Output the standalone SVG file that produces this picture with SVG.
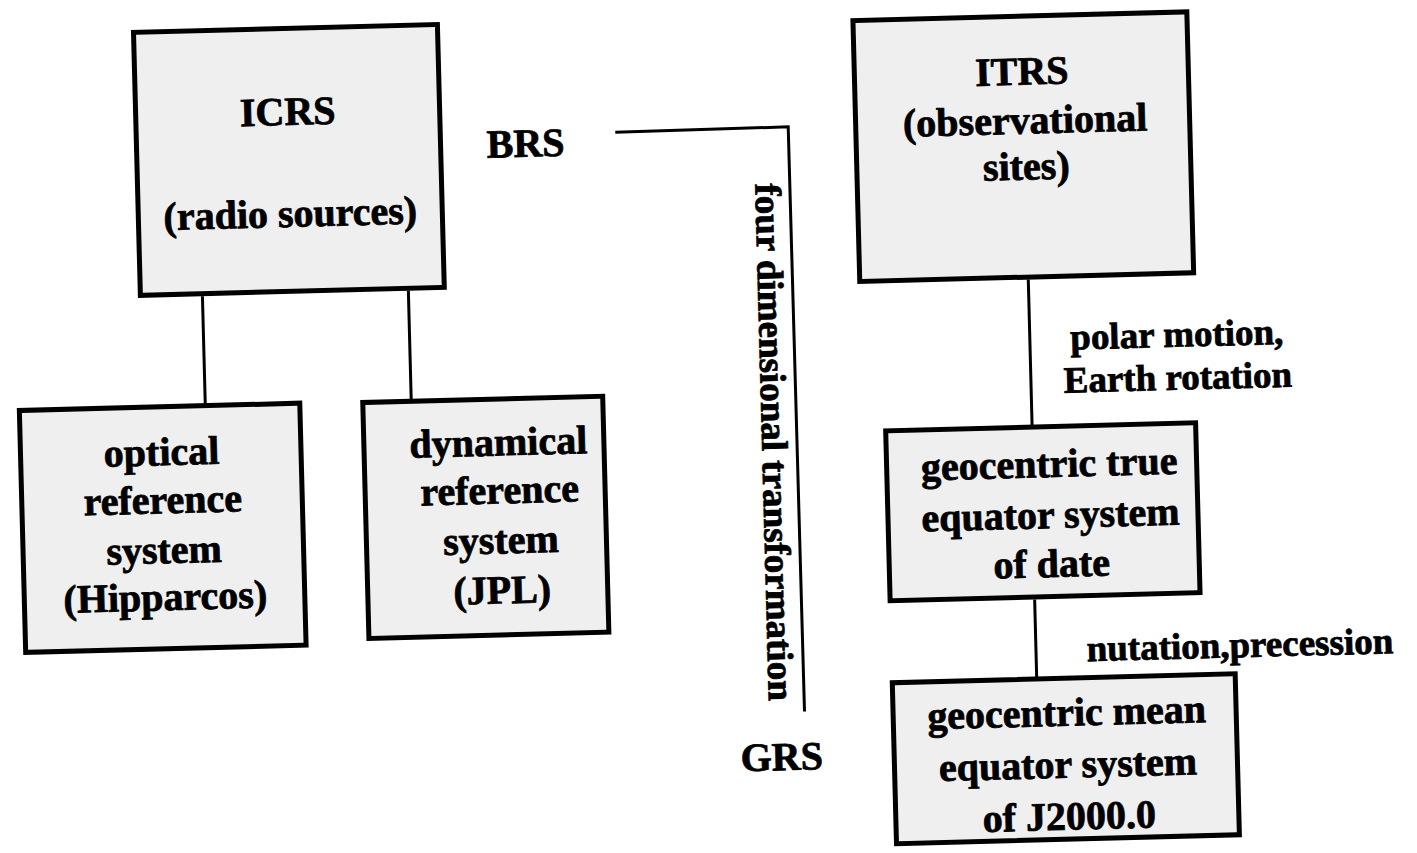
<svg xmlns="http://www.w3.org/2000/svg" width="1417" height="853" viewBox="0 0 1417 853">
<style>
.box{fill:#efefef;stroke:#000;stroke-width:5}
.t{font-family:"Liberation Serif","Times New Roman",serif;font-weight:bold;font-size:40px;fill:#000;stroke:#000;stroke-width:0.8;text-anchor:middle}
.l{font-size:37px}
.c{stroke:#000;stroke-width:3;fill:none}
</style>
<rect width="1417" height="853" fill="#fff"/>
<g transform="rotate(-1.5 708 426)">
<g id="connectors">
<line class="c" x1="206" y1="283" x2="206" y2="391"/>
<line class="c" x1="412" y1="283" x2="412" y2="392"/>
<line class="c" x1="1032" y1="288" x2="1032" y2="434"/>
<line class="c" x1="1030" y1="608" x2="1030" y2="686"/>
<polyline class="c" points="623,130 796,129 797,714"/>
</g>
<g id="icrs">
<rect class="box" x="144" y="17.5" width="304" height="263"/>
<text class="t" x="296" y="114">ICRS</text>
<text class="t" x="296" y="216">(radio sources)</text>
</g>
<g id="optical">
<rect class="box" x="20" y="392.5" width="280.5" height="242"/>
<text class="t" x="161" y="451">optical</text>
<text class="t" x="161" y="499">reference</text>
<text class="t" x="161" y="549">system</text>
<text class="t" x="161" y="596">(Hipparcos)</text>
</g>
<g id="dynamical">
<rect class="box" x="363.5" y="393.5" width="240" height="236"/>
<text class="t" x="498" y="450">dynamical</text>
<text class="t" x="498" y="498">reference</text>
<text class="t" x="498" y="548">system</text>
<text class="t" x="498" y="598">(JPL)</text>
</g>
<g id="itrs">
<rect class="box" x="863.5" y="24.5" width="334" height="261"/>
<text class="t" x="1031" y="93">ITRS</text>
<text class="t" x="1033" y="142">(observational</text>
<text class="t" x="1033" y="188">sites)</text>
</g>
<g id="true">
<rect class="box" x="885.5" y="435.5" width="310" height="170"/>
<text class="t" x="1048" y="486">geocentric true</text>
<text class="t" x="1048" y="537">equator system</text>
<text class="t" x="1048" y="586">of date</text>
</g>
<g id="mean">
<rect class="box" x="885.5" y="687.5" width="343" height="161"/>
<text class="t" x="1059" y="735">geocentric mean</text>
<text class="t" x="1059" y="787">equator system</text>
<text class="t" x="1059" y="839">of J2000.0</text>
</g>
<g id="labels">
<text class="t" x="533" y="152">BRS</text>
<text class="t" x="773" y="772">GRS</text>
<text class="t l" transform="translate(761.6 443.8) rotate(90)">four dimensional transformation</text>
<text class="t l" x="1179" y="359">polar motion,</text>
<text class="t l" x="1179" y="402">Earth rotation</text>
<text class="t l" x="1234" y="671">nutation,precession</text>
</g>
</g>
</svg>
